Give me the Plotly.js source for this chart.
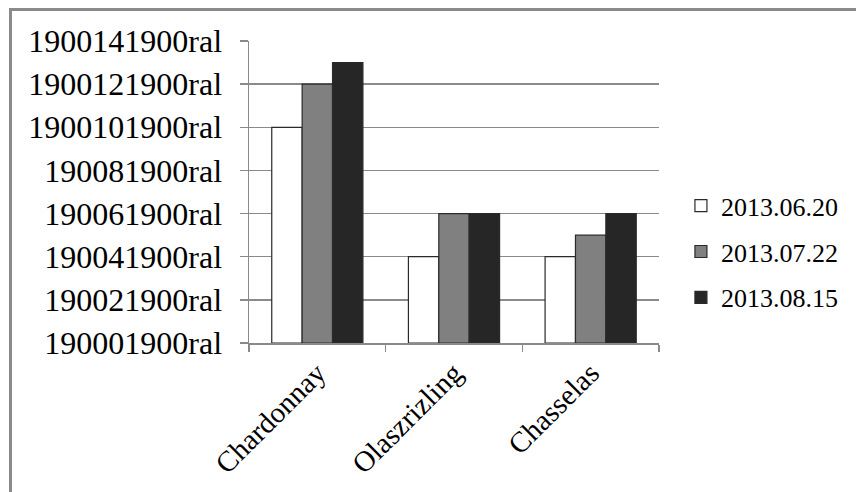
<!DOCTYPE html>
<html>
<head>
<meta charset="utf-8">
<script src="https://cdn.plot.ly/plotly-3.0.1.min.js"></script>
<style>
  html, body { margin: 0; padding: 0; background: #fff; }
  #wrap { position: relative; width: 856px; height: 492px; overflow: hidden; }
  #chart { position: absolute; left: 0; top: 0; width: 856px; height: 492px; }
  #frame { position: absolute; left: 9px; top: 8px; width: 900px; height: 600px;
           border-left: 3px solid #8a8a8a; border-top: 3px solid #8a8a8a; pointer-events: none; }
</style>
</head>
<body>
<div id="wrap">
  <div id="chart"></div>
  <div id="frame"></div>
</div>
<script>
const categories = ["Chardonnay", "Olaszrizling", "Chasselas"];
const seriesNames = ["2013.06.20", "2013.07.22", "2013.08.15"];
const series1 = [10, 4, 4];
const series2 = [12, 6, 5];
const series3 = [13, 6, 6];
const tickValues = [0, 2, 4, 6, 8, 10, 12, 14];
const tickLabels = ["190001900ral", "190021900ral", "190041900ral", "190061900ral",
                    "190081900ral", "1900101900ral", "1900121900ral", "1900141900ral"];

const SERIF = "Liberation Serif";
const fills = ["#ffffff", "#808080", "#262626"];
const allSeries = [series1, series2, series3];

const traces = allSeries.map((vals, i) => ({
  type: "bar",
  name: seriesNames[i],
  x: categories,
  y: vals,
  marker: { color: fills[i], line: { color: "#2a2a2a", width: 1.2 } },
  legendgroup: "g" + i,
  hoverinfo: "skip"
}));

const layout = {
  width: 856,
  height: 492,
  margin: { l: 249, r: 197, t: 41, b: 149, pad: 0, autoexpand: false },
  paper_bgcolor: "#ffffff",
  plot_bgcolor: "#ffffff",
  font: { family: SERIF, color: "#000000" },
  barmode: "group",
  bargap: 0.333,
  bargroupgap: 0,
  showlegend: true,
  legend: {
    x: 1.0535, xanchor: "left", xref: "paper",
    y: 0.302, yanchor: "middle",
    font: { size: 26, family: SERIF, color: "#000" },
    traceorder: "grouped",
    tracegroupgap: 9,
    itemwidth: 30,
    bgcolor: "rgba(0,0,0,0)"
  },
  xaxis: {
    type: "category",
    showline: true,
    linecolor: "#8a8a8a",
    linewidth: 1.5,
    ticks: "outside",
    tickson: "boundaries",
    ticklen: 7,
    tickcolor: "#8a8a8a",
    tickwidth: 1.5,
    tickangle: -45,
    tickfont: { size: 29, family: SERIF, color: "#000" },
    showgrid: false,
    zeroline: false
  },
  yaxis: {
    range: [0, 14],
    tickmode: "array",
    tickvals: tickValues,
    ticktext: tickLabels,
    showline: true,
    linecolor: "#8a8a8a",
    linewidth: 1.5,
    ticks: "outside",
    ticklen: 8,
    tickcolor: "#8a8a8a",
    tickwidth: 1.5,
    ticklabelstandoff: 11,
    tickfont: { size: 32, family: SERIF, color: "#000" },
    showgrid: true,
    gridcolor: "#8a8a8a",
    gridwidth: 1.3,
    zeroline: false
  }
};

Plotly.newPlot("chart", traces, layout, { staticPlot: true, displayModeBar: false });
</script>
</body>
</html>
